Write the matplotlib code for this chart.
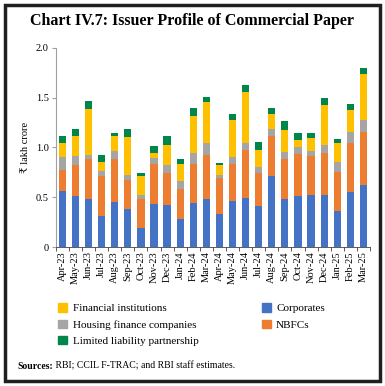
import numpy as np
import matplotlib.pyplot as plt
from matplotlib.patches import Rectangle, Patch

months = ["Apr-23", "May-23", "Jun-23", "Jul-23", "Aug-23", "Sep-23", "Oct-23", "Nov-23",
          "Dec-23", "Jan-24", "Feb-24", "Mar-24", "Apr-24", "May-24", "Jun-24", "Jul-24",
          "Aug-24", "Sep-24", "Oct-24", "Nov-24", "Dec-24", "Jan-25", "Feb-25", "Mar-25"]

# values in ₹ lakh crore
corporates = [0.56, 0.51, 0.48, 0.31, 0.45, 0.38, 0.19, 0.43, 0.42, 0.28, 0.44, 0.48,
              0.33, 0.46, 0.49, 0.41, 0.71, 0.48, 0.51, 0.52, 0.52, 0.36, 0.55, 0.62]
nbfcs = [0.21, 0.31, 0.40, 0.40, 0.43, 0.29, 0.29, 0.40, 0.32, 0.30, 0.39, 0.44,
         0.36, 0.37, 0.48, 0.33, 0.41, 0.40, 0.42, 0.39, 0.42, 0.39, 0.49, 0.54]
housing_finance = [0.13, 0.09, 0.04, 0.05, 0.08, 0.05, 0.04, 0.06, 0.08, 0.08, 0.11, 0.12,
                   0.03, 0.07, 0.07, 0.06, 0.07, 0.07, 0.07, 0.05, 0.08, 0.10, 0.12, 0.12]
financial_inst = [0.14, 0.20, 0.47, 0.09, 0.15, 0.38, 0.19, 0.05, 0.20, 0.17, 0.38, 0.42,
                  0.10, 0.38, 0.52, 0.17, 0.15, 0.23, 0.07, 0.13, 0.41, 0.19, 0.22, 0.46]
llp = [0.07, 0.08, 0.08, 0.07, 0.04, 0.09, 0.03, 0.07, 0.09, 0.05, 0.08, 0.05,
       0.02, 0.06, 0.07, 0.08, 0.06, 0.09, 0.08, 0.06, 0.07, 0.04, 0.06, 0.06]

series = [("Corporates", corporates, "#4472C4"),
          ("NBFCs", nbfcs, "#ED7D31"),
          ("Housing finance companies", housing_finance, "#A5A5A5"),
          ("Financial institutions", financial_inst, "#FFC000"),
          ("Limited liability partnership", llp, "#00864A")]

plt.rcParams["font.family"] = ["Liberation Serif", "DejaVu Serif"]

fig = plt.figure(figsize=(3.85, 3.86), dpi=100)
ax = fig.add_axes([0.145, 0.36, 0.816, 0.516])

x = np.arange(len(months))
bottom = np.zeros(len(months))
for name, vals, col in series:
    ax.bar(x, vals, 0.55, bottom=bottom, color=col, label=name)
    bottom += np.array(vals)

ax.set_xlim(-0.5, len(months) - 0.5)
ax.set_ylim(0, 2.0)
ax.set_yticks([0, 0.5, 1.0, 1.5, 2.0])
ax.set_yticklabels(["0", "0.5", "1.0", "1.5", "2.0"], fontsize=7.5)
ax.set_xticks(x)
ax.set_xticklabels(months, rotation=90, fontsize=7.5)
ax.tick_params(axis="x", which="major", length=0, pad=3)
ax.set_xticks(np.arange(-0.5, len(months), 1), minor=True)
ax.tick_params(axis="x", which="minor", length=3, color="#404040", width=0.6)
ax.tick_params(axis="y", length=3, color="#A0A0A0", width=0.8, pad=2)
ax.set_ylabel("₹ lakh crore", fontsize=7.5, labelpad=4)
for s in ["top", "right"]:
    ax.spines[s].set_visible(False)
ax.spines["left"].set_color("#A0A0A0")
ax.spines["bottom"].set_color("#404040")
ax.spines["left"].set_linewidth(0.8)
ax.spines["bottom"].set_linewidth(0.6)

order = ["Financial institutions", "Housing finance companies", "Limited liability partnership",
         "Corporates", "NBFCs"]
cols = dict((n, c) for n, v, c in series)
fig.legend([Patch(color=cols[n]) for n in order], order, ncol=2,
           loc="upper left", bbox_to_anchor=(0.125, 0.24), frameon=False,
           fontsize=8, handlelength=0.8, handleheight=0.8, handletextpad=0.5,
           columnspacing=5.7, labelspacing=0.55)

fig.text(0.5, 0.935, "Chart IV.7: Issuer Profile of Commercial Paper", ha="center",
         fontsize=11.5, fontweight="bold")
src = fig.text(0.045, 0.045, "Sources:", fontsize=7, fontweight="bold")
fig.canvas.draw()
bb = src.get_window_extent().transformed(fig.transFigure.inverted())
fig.text(bb.x1, 0.045, " RBI; CCIL F-TRAC; and RBI staff estimates.", fontsize=7)

fig.patches.append(Rectangle((0.012, 0.012), 0.976, 0.976, transform=fig.transFigure,
                             fill=False, edgecolor="#202020", linewidth=2.5))

fig.savefig("out.png", dpi=100)
